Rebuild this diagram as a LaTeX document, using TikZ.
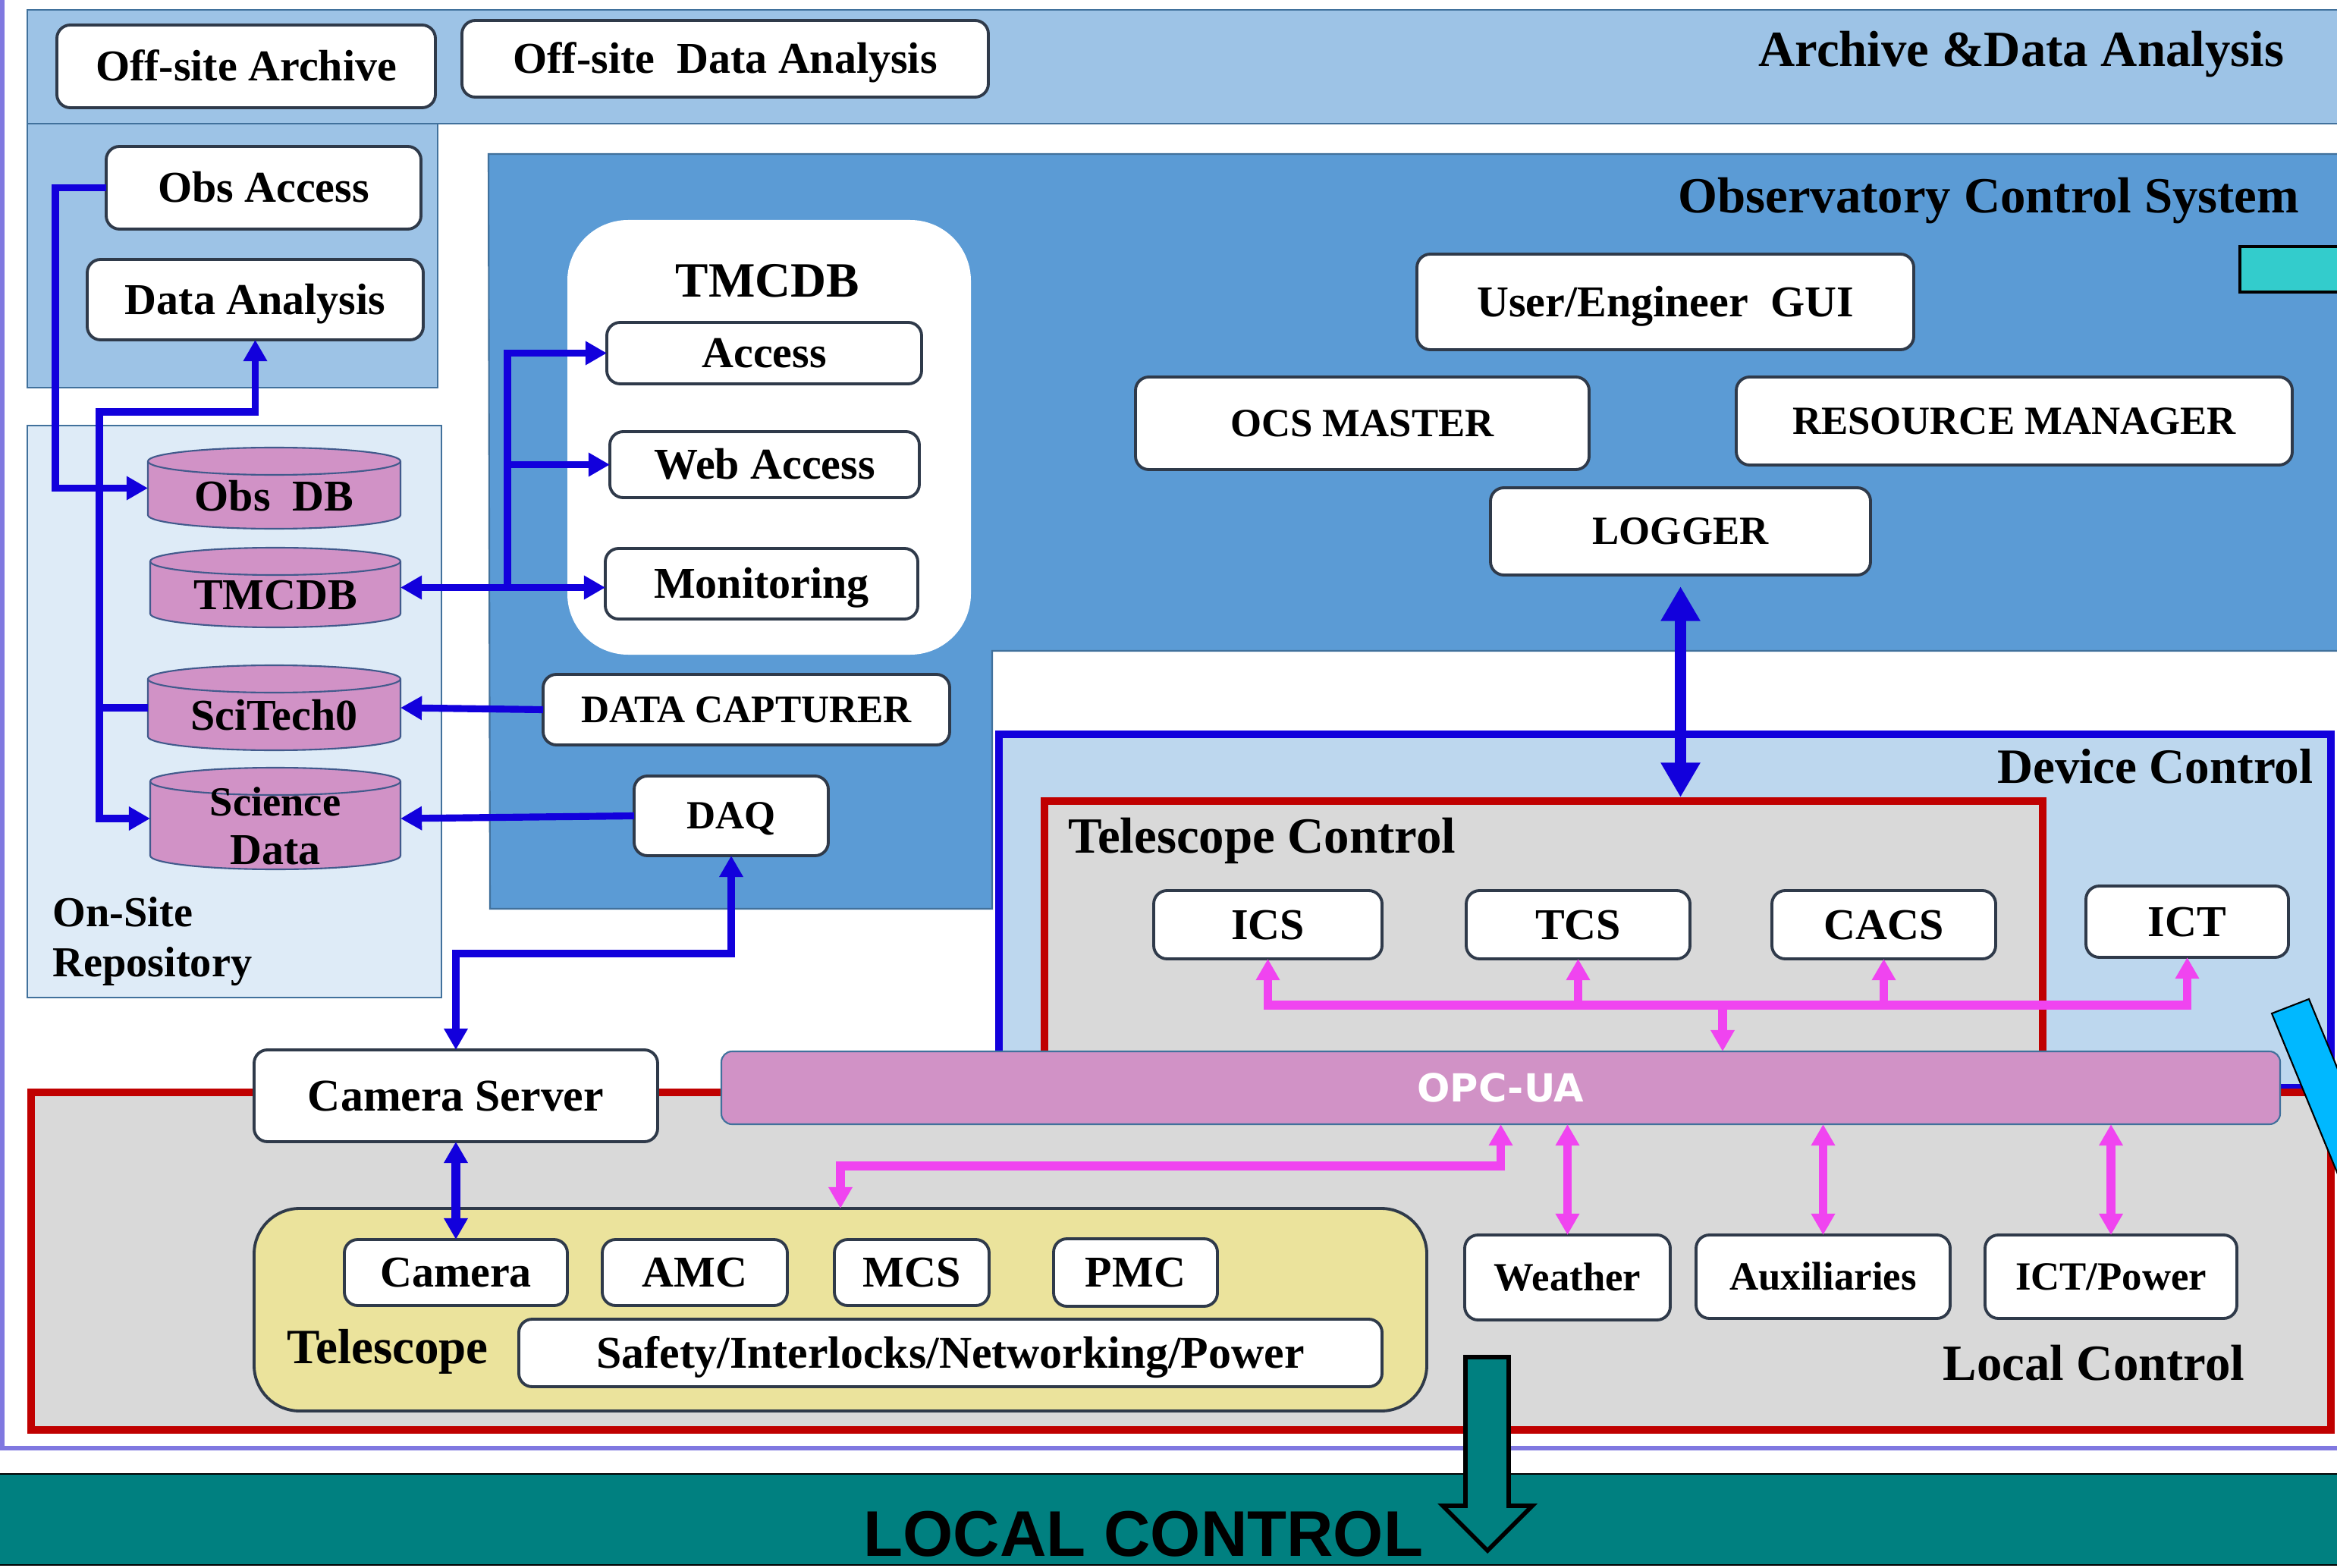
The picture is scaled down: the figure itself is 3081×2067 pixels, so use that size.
\documentclass[tikz,border=0pt]{standalone}
\usepackage{fontspec}
\setmainfont{Liberation Serif}
\newfontfamily\busfont{DejaVu Sans}
\newfontfamily\barfont{Liberation Sans}
\usepackage{xcolor}
\usepackage{tikz}
\usetikzlibrary{positioning,arrows.meta}
\definecolor{archblue}{RGB}{157,195,230}
\definecolor{regline}{RGB}{65,113,156}
\definecolor{ocsblue}{RGB}{91,155,213}
\definecolor{repoblue}{RGB}{222,235,247}
\definecolor{devblue}{RGB}{189,215,238}
\definecolor{linkblue}{RGB}{18,0,220}
\definecolor{tcred}{RGB}{192,0,0}
\definecolor{ctrlgray}{RGB}{217,217,217}
\definecolor{dbpink}{RGB}{209,146,198}
\definecolor{dbline}{RGB}{65,90,140}
\definecolor{busmag}{RGB}{240,68,240}
\definecolor{telyellow}{RGB}{235,227,156}
\definecolor{boxline}{RGB}{47,58,74}
\definecolor{barteal}{RGB}{0,128,128}
\definecolor{cyanbar}{RGB}{0,184,255}
\definecolor{cyanrect}{RGB}{51,204,204}
\definecolor{framelav}{RGB}{128,120,224}
\tikzset{
    wh/.style 2 args={minimum width=#1*0.01cm, minimum height=#2*0.01cm},
    region/.style={inner sep=0pt, outer sep=0pt, anchor=north west},
    box/.style={draw=boxline, fill=white, line width=1.1pt, rounded corners=5pt, inner sep=0pt, outer sep=0pt,
        text height=11.5pt, text depth=0.6pt, font=\bfseries\fontsize{16.5pt}{19pt}\selectfont},
    small box/.style={box, text height=10.5pt, font=\bfseries\fontsize{15pt}{17pt}\selectfont},
    headline/.style={inner sep=0pt, font=\bfseries\fontsize{19pt}{22pt}\selectfont},
    link/.style={draw=linkblue, line width=2.6pt},
    trunk/.style={draw=linkblue, line width=4.2pt, >={Triangle[length=13pt,width=14pt]}, <->},
    bus/.style={draw=busmag, line width=3.3pt},
    dbshape/.style={draw=dbline, fill=dbpink, line width=0.6pt},
    dbtext/.style={inner sep=0pt, align=center, font=\bfseries\fontsize{16.5pt}{18pt}\selectfont}
}
% database cylinder: name, x1, y1, x2, y2, text
\newcommand{\dbcyl}[6]{%
    \filldraw[dbshape] (#2,#3+18) -- (#2,#5-18)
        arc[start angle=180, end angle=0, x radius={(#4-#2)/2}, y radius=18]
        -- (#4,#3+18)
        arc[start angle=0, end angle=-180, x radius={(#4-#2)/2}, y radius=18] -- cycle;
    \draw[dbshape, fill=none] (#2,#3+18)
        arc[start angle=180, end angle=0, x radius={(#4-#2)/2}, y radius=18];
    \node[inner sep=0pt, outer sep=0pt, wh={(#4-#2)}{(#5-#3)}] (#1) at ({(#2+#4)/2},{(#3+#5)/2}) {};
    \node[dbtext] at ({(#2+#4)/2},{(#3+#5)/2+10}) {#6};
}

\begin{document}
\begin{tikzpicture}[x=0.01cm, y=-0.01cm, >={Triangle[length=8pt,width=8.5pt]}]
    \useasboundingbox (0,0) rectangle (3081,2067);

    % archive and data analysis
    \node[region, draw=regline, fill=archblue, line width=0.6pt, wh={3100}{150}] (archband) at (36,13) {};
    \node[region, draw=regline, fill=archblue, line width=0.6pt, wh={541}{348}] (archcol) at (36,163) {};
    \node[headline, anchor=base east] at (3012,88) {Archive \&Data Analysis};
    \node[box, wh={499}{109}] (offarch) at (324.5,87.5) {Off-site Archive};
    \node[box, wh={694}{101}] (offdata) at (956,77.5) {Off-site\ \ Data Analysis};
    \node[box, wh={415}{109}] (obsacc) at (347.5,247.5) {Obs Access};
    \node[box, wh={443}{106}] (dana) at (336.5,395) {Data Analysis};

    % on-site repository
    \node[region, draw=regline, fill=repoblue, line width=0.6pt, wh={546}{754}] (repo) at (36,561) {};
    \node[headline, anchor=base west, font=\bfseries\fontsize{16pt}{19pt}\selectfont] at (69,1221) {On-Site};
    \node[headline, anchor=base west, font=\bfseries\fontsize{16pt}{19pt}\selectfont] at (69,1287) {Repository};
    \dbcyl{obsdb}{195}{590}{528}{697}{Obs\ \ DB}
    \dbcyl{tmcdbcyl}{198}{722}{528}{827}{TMCDB}
    \dbcyl{scitech}{195}{877}{528}{989}{SciTech0}
    \dbcyl{scidata}{198}{1012}{528}{1146}{\fontsize{15.5pt}{17.4pt}\selectfont Science\\Data}

    % observatory control system
    \filldraw[draw=regline, fill=ocsblue, line width=0.6pt] (644,203) -- (3100,203) -- (3100,858)
        -- (1308,858) -- (1308,1198) -- (646,1198) -- cycle;
    \node[headline, anchor=base east] at (3032,281) {Observatory Control System};
    \node[region, draw=black, fill=cyanrect, line width=1.4pt, wh={200}{60}] (ocsflag) at (2953,325) {};
    \node[region, fill=white, rounded corners=0.8cm, wh={532}{573}] (tmcdb) at (748,290) {};
    \node[headline, anchor=base, font=\bfseries\fontsize{18.5pt}{21pt}\selectfont] at (1012,392) {TMCDB};
    \node[box, wh={415}{81}] (access) at (1007.5,465.5) {Access};
    \node[box, wh={408}{87}] (webacc) at (1008,612.5) {Web Access};
    \node[box, wh={412}{93}] (monitor) at (1004,769.5) {Monitoring};
    \node[box, wh={536}{93}, text height=10.2pt, font=\bfseries\fontsize{14.6pt}{17pt}\selectfont] (datacap) at (984,935.5) {DATA CAPTURER};
    \node[small box, wh={256}{105}] (daq) at (964,1075.5) {DAQ};
    \node[box, wh={655}{126}] (gui) at (2195.5,398) {User/Engineer\ \ GUI};
    \node[small box, wh={598}{122}] (ocsmaster) at (1796,558) {OCS MASTER};
    \node[small box, wh={733}{116}] (resmgr) at (2655.5,555) {RESOURCE MANAGER};
    \node[small box, wh={501}{115}] (logger) at (2215.5,700.5) {LOGGER};

    % device control
    \node[region, draw=linkblue, fill=devblue, line width=2.85pt, wh={1756}{466}] (devctrl) at (1317,968) {};
    \node[headline, anchor=base east, font=\bfseries\fontsize{18.5pt}{21pt}\selectfont] at (3050,1032) {Device Control};
    \node[region, draw=tcred, fill=ctrlgray, line width=2.85pt, wh={1316}{384}] (telctrl) at (1377,1056) {};
    \node[headline, anchor=base west] at (1408,1124) {Telescope Control};
    \node[box, wh={301}{90}] (ics) at (1671.5,1219) {ICS};
    \node[box, wh={295}{90}] (tcs) at (2080.5,1219) {TCS};
    \node[box, wh={295}{90}] (cacs) at (2483.5,1219) {CACS};
    \node[box, wh={267}{94}] (ict) at (2883.5,1215) {ICT};

    % local control
    \node[region, draw=tcred, fill=ctrlgray, line width=2.85pt, wh={3032}{445}] (localctrl) at (41,1440) {};
    \node[headline, anchor=base east] at (2960,1819) {Local Control};
    \draw[framelav, line width=1.7pt] (3,0) -- (3,1909) -- (3100,1909);
    \node[region, fill=barteal, draw=black, line width=0.6pt, wh={3120}{120}] (lcbar) at (-20,1943) {};
    \node[anchor=base west, inner sep=0pt, font=\barfont\bfseries\fontsize{24.2pt}{28pt}\selectfont] at (1138,2051) {LOCAL CONTROL};

    \node[box, wh={532}{121}, text height=11.9pt, font=\bfseries\fontsize{17pt}{19pt}\selectfont] (camsrv) at (601,1444.5) {Camera Server};
    \node[draw=boxline, fill=telyellow, line width=1.1pt, rounded corners=0.6cm, inner sep=0pt, outer sep=0pt, wh={1546}{267}] (telbox) at (1108,1726.5) {};
    \node[box, wh={294}{87}] (camera) at (601,1677.5) {Camera};
    \node[box, wh={244}{87}] (amc) at (916,1677.5) {AMC};
    \node[box, wh={204}{87}] (mcs) at (1202,1677.5) {MCS};
    \node[box, wh={216}{89}] (pmc) at (1497,1677.5) {PMC};
    \node[headline, anchor=base west, font=\bfseries\fontsize{18.5pt}{21pt}\selectfont] at (378,1797) {Telescope};
    \node[box, wh={1138}{89}, text height=11.9pt, font=\bfseries\fontsize{17pt}{19pt}\selectfont] (safety) at (1253,1783.5) {Safety/Interlocks/Networking/Power};
    \node[small box, wh={271}{112}] (weather) at (2066.5,1684) {Weather};
    \node[small box, wh={335}{110}] (aux) at (2403.5,1683) {Auxiliaries};
    \node[small box, wh={332}{110}] (ictpow) at (2783,1683) {ICT/Power};
    \node[draw=regline, fill=dbpink, line width=0.6pt, rounded corners=4pt, inner sep=0pt, outer sep=0pt, wh={2055}{96},
        text=white, font=\busfont\bfseries\fontsize{14.5pt}{17pt}\selectfont] (opcua) at (1978.5,1434) {OPC-UA};

    % blue links
    \draw[link, ->] (obsacc.west) -- ++(-67,0) |- (obsdb.west);
    \coordinate (dajoint) at (131,543);
    \draw[link, <->] (scidata.west) -| (dajoint) -| (dana.south);
    \draw[link] (scitech.west) -- (scitech.west -| dajoint);
    \draw[link, <->] (tmcdbcyl.east) -- (tmcdbcyl.east -| monitor.west);
    \coordinate (tmtrunk) at (669,774.5);
    \draw[link, ->] (tmtrunk) |- (access.west);
    \draw[link, ->] (tmtrunk |- webacc.west) -- (webacc.west);
    \draw[link, ->] (datacap.west) -- (scitech.east);
    \draw[link, ->] (daq.west) -- (scidata.east);
    \draw[link, <->] (daq.south) -- ++(0,129) -| (camsrv.north);
    \draw[link, line width=3.2pt, <->] (camsrv.south) -- (camera.north);
    \draw[trunk, shorten <=0.15cm, shorten >=0.05cm] (logger.south) -- (logger.south |- telctrl.north);

    % magenta bus
    \coordinate (tcbus) at (2271,1325);
    \draw[bus, <->] (ics.south) -- (ics.south |- tcbus) -- (ict.south |- tcbus) -- (ict.south);
    \draw[bus, ->] (tcs.south |- tcbus) -- (tcs.south);
    \draw[bus, ->] (cacs.south |- tcbus) -- (cacs.south);
    \draw[bus, ->] (tcbus) -- (tcbus |- opcua.north);
    \draw[bus, <->] (opcua.south) -- ++(0,55) -| (telbox.north);
    \draw[bus, <->] (opcua.south -| weather.north) -- (weather.north);
    \draw[bus, <->] (opcua.south -| aux.north) -- (aux.north);
    \draw[bus, <->] (opcua.south -| ictpow.north) -- (ictpow.north);

    % block arrow and cyan bar
    \filldraw[fill=barteal, draw=black, line width=1.6pt] (1932,1789) -- (1989,1789) -- (1989,1985)
        -- (2020,1985) -- (1961,2044) -- (1902,1985) -- (1932,1985) -- cycle;
    \begin{scope}
        \clip (0,0) rectangle (3081,2067);
        \filldraw[fill=cyanbar, draw=black, line width=0.6pt] (2995,1336) -- (3044,1317) -- (3196,1687) -- (3147,1706) -- cycle;
    \end{scope}
\end{tikzpicture}
\end{document}
